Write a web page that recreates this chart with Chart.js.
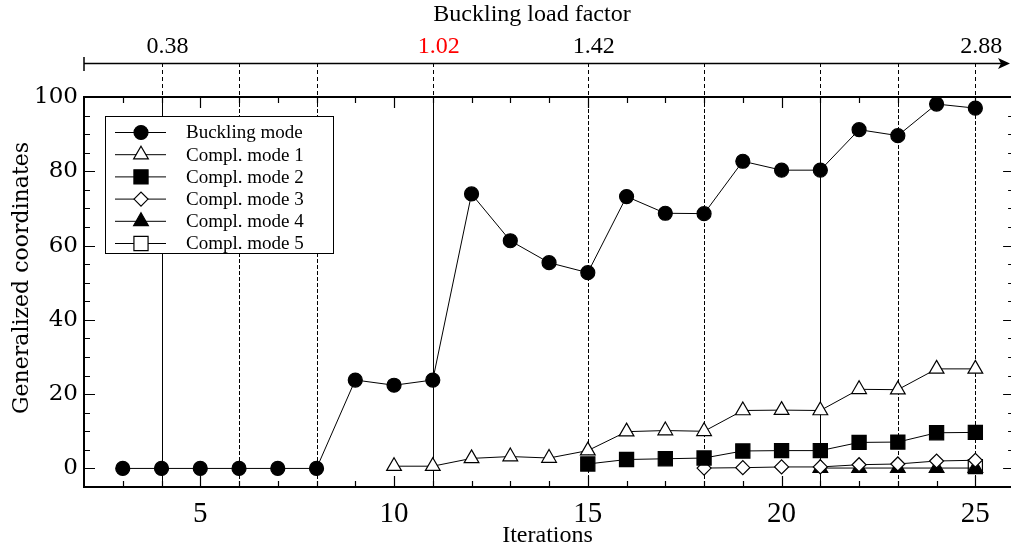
<!DOCTYPE html>
<html>
<head>
<meta charset="utf-8">
<style>
  html, body { margin: 0; padding: 0; background: #fff; }
  #wrap { width: 1011px; height: 552px; }
</style>
</head>
<body>
<div id="wrap"><canvas id="myChart" width="1011" height="552"></canvas></div>
<script src="https://cdn.jsdelivr.net/npm/chart.js@4/dist/chart.umd.min.js"></script>
<script>
// iterations of each series
var buckIter = [3, 4, 5, 6, 7, 8, 9, 10, 11, 12, 13, 14, 15, 16, 17, 18, 19, 20, 21, 22, 23, 24, 25];
var buckVals = [0, 0, 0, 0, 0, 0, 23.8, 22.4, 23.8, 73.9, 61.3, 55.4, 52.7, 73.2, 68.7, 68.6, 82.7, 80.3, 80.3, 91.2, 89.6, 98.1, 97.0];
var m1Iter = [10, 11, 12, 13, 14, 15, 16, 17, 18, 19, 20, 21, 22, 23, 24, 25];
var m1Vals = [0.6, 0.6, 2.7, 3.2, 2.8, 4.8, 9.9, 10.2, 10.0, 15.6, 15.7, 15.6, 21.3, 21.2, 26.8, 26.8];
var m2Iter = [15, 16, 17, 18, 19, 20, 21, 22, 23, 24, 25];
var m2Vals = [1.2, 2.4, 2.6, 2.8, 4.7, 4.8, 4.8, 7.0, 7.1, 9.6, 9.7];
var m3Iter = [18, 19, 20, 21, 22, 23, 24, 25];
var m3Vals = [0.1, 0.2, 0.4, 0.4, 1.0, 1.2, 2.0, 2.2];
var m4Iter = [21, 22, 23, 24, 25];
var m4Vals = [0.1, 0.1, 0.1, 0.1, 0.1];
var m5Iter = [25];
var m5Vals = [0.5];

var xTicks = [5, 10, 15, 20, 25];
var yTicks = [0, 20, 40, 60, 80, 100];

// buckling load factor axis (top)
var markIter = [4, 6, 8, 11, 15, 18, 21, 23, 25];
var markSolid = [4, 11, 21];
var loadIter = [4, 11, 15, 25];
var loadLabels = ['0.38', '1.02', '1.42', '2.88'];
var loadColors = ['#000', '#ff0000', '#000', '#000'];

function pts(xs, ys) {
  return xs.map(function (v, i) { return { x: v, y: ys[i] }; });
}

function ds(label, xs, ys, style, fill, radius) {
  return {
    label: label,
    data: pts(xs, ys),
    borderColor: '#000',
    borderWidth: 1,
    pointStyle: style,
    pointRadius: radius,
    pointHoverRadius: radius,
    pointBackgroundColor: fill,
    pointBorderColor: '#000',
    pointBorderWidth: 1.2,
    showLine: true,
    fill: false,
    tension: 0
  };
}

var serif = 'Liberation Serif';

var decor = {
  id: 'decor',
  beforeDatasetsDraw: function (chart) {
    var c = chart.ctx, x = chart.scales.x, a = chart.chartArea;
    c.save();
    c.lineWidth = 1;
    c.strokeStyle = '#000';
    markIter.forEach(function (v) {
      var px = Math.round(x.getPixelForValue(v)) + 0.5;
      // top band is always dashed
      c.setLineDash([4, 3]);
      c.beginPath(); c.moveTo(px, 63); c.lineTo(px, a.top); c.stroke();
      if (markSolid.indexOf(v) >= 0) c.setLineDash([]); else c.setLineDash([4, 2]);
      c.beginPath(); c.moveTo(px, a.top); c.lineTo(px, a.bottom); c.stroke();
    });
    c.restore();
  },
  afterDraw: function (chart) {
    var c = chart.ctx, x = chart.scales.x, y = chart.scales.y, a = chart.chartArea;
    var right = x.getPixelForValue(26);
    c.save();
    c.strokeStyle = '#000';
    c.fillStyle = '#000';
    // top border of the plot
    c.lineWidth = 2;
    c.beginPath(); c.moveTo(a.left, a.top); c.lineTo(1011, a.top); c.stroke();

    // inward ticks
    c.lineWidth = 1.2;
    for (var i = 3; i <= 25; i++) {
      var px = Math.round(x.getPixelForValue(i)) + 0.5;
      var len = (i % 5 === 0) ? 11 : 6;
      c.beginPath();
      c.moveTo(px, a.bottom); c.lineTo(px, a.bottom - len);
      c.moveTo(px, a.top); c.lineTo(px, a.top + len);
      c.stroke();
    }
    for (var v = -5; v <= 100; v += 5) {
      var py = Math.round(y.getPixelForValue(v)) + 0.5;
      var l2 = (v % 20 === 0) ? 11 : 6;
      c.beginPath();
      c.moveTo(a.left, py); c.lineTo(a.left + l2, py);
      c.moveTo(right, py); c.lineTo(right - l2, py);
      c.stroke();
    }

    // buckling load factor axis
    c.lineWidth = 1.5;
    c.beginPath(); c.moveTo(a.left, 63.5); c.lineTo(1006, 63.5); c.stroke();
    c.beginPath(); c.moveTo(a.left, 57); c.lineTo(a.left, 71); c.stroke();
    c.beginPath(); c.moveTo(1010, 63.5); c.lineTo(998, 58); c.lineTo(1001, 63.5); c.lineTo(998, 69); c.closePath(); c.fill();

    c.font = '24px "' + serif + '"';
    c.textAlign = 'center';
    c.textBaseline = 'middle';
    loadIter.forEach(function (v, k) {
      c.fillStyle = loadColors[k];
      c.fillText(loadLabels[k], x.getPixelForValue(v) + 6, 47);
    });
    c.fillStyle = '#000';
    c.fillText('Buckling load factor', 532, 15);

    // y axis title
    c.save();
    c.translate(22, 278);
    c.rotate(-Math.PI / 2);
    c.font = '22px "DejaVu Serif"';
    c.fillText('Generalized coordinates', 0, 0);
    c.restore();

    // legend
    var lx = 105.5, ly = 116.5, lw = 228, lh = 137;
    c.fillStyle = '#fff';
    c.fillRect(lx, ly, lw, lh);
    c.lineWidth = 1;
    c.strokeStyle = '#000';
    c.strokeRect(lx, ly, lw, lh);
    c.font = '19px "' + serif + '"';
    c.textAlign = 'left';
    chart.data.datasets.forEach(function (d, k) {
      var ry = 132.5 + k * 22.2;
      c.lineWidth = 1;
      c.strokeStyle = '#000';
      c.beginPath(); c.moveTo(115, ry); c.lineTo(166, ry); c.stroke();
      c.lineWidth = 1.2;
      c.fillStyle = d.pointBackgroundColor;
      Chart.helpers.drawPoint(c, { pointStyle: d.pointStyle, radius: d.pointRadius, borderWidth: 1.2, rotation: 0 }, 141, ry);
      c.fillStyle = '#000';
      c.fillText(d.label, 186, ry + 1);
    });
    c.restore();
  }
};

var ctx = document.getElementById('myChart').getContext('2d');
var myChart = new Chart(ctx, {
  type: 'scatter',
  data: {
    datasets: [
      ds('Buckling mode', buckIter, buckVals, 'circle', '#000', 7),
      ds('Compl. mode 1', m1Iter, m1Vals, 'triangle', '#fff', 8.5),
      ds('Compl. mode 2', m2Iter, m2Vals, 'rect', '#000', 10),
      ds('Compl. mode 3', m3Iter, m3Vals, 'rectRot', '#fff', 7),
      ds('Compl. mode 4', m4Iter, m4Vals, 'triangle', '#000', 8.5),
      ds('Compl. mode 5', m5Iter, m5Vals, 'rect', '#fff', 10)
    ]
  },
  options: {
    responsive: false,
    animation: false,
    layout: { autoPadding: false, padding: { top: 97, left: 0, right: 0, bottom: 0 } },
    plugins: { legend: { display: false }, tooltip: { enabled: false } },
    scales: {
      x: {
        type: 'linear',
        min: 2,
        max: 25.92,
        afterBuildTicks: function (s) { s.ticks = xTicks.map(function (v) { return { value: v }; }); },
        afterFit: function (s) { s.height = 65; s.paddingLeft = 0; s.paddingRight = 0; },
        grid: { display: false, drawTicks: false },
        border: { display: true, color: '#000', width: 2 },
        ticks: { color: '#000', padding: 10, maxRotation: 0, font: { family: serif, size: 29 } },
        title: { display: true, text: 'Iterations', color: '#000', padding: { top: 0, bottom: 2 }, font: { family: serif, size: 24 } }
      },
      y: {
        type: 'linear',
        min: -5,
        max: 100,
        afterBuildTicks: function (s) { s.ticks = yTicks.map(function (v) { return { value: v }; }); },
        afterFit: function (s) { s.width = 84; s.paddingTop = 0; s.paddingBottom = 0; },
        grid: { display: false, drawTicks: false },
        border: { display: true, color: '#000', width: 2 },
        ticks: { color: '#000', padding: 6, font: { family: 'DejaVu Serif', size: 23 } }
      }
    }
  },
  plugins: [decor]
});
</script>
</body>
</html>
